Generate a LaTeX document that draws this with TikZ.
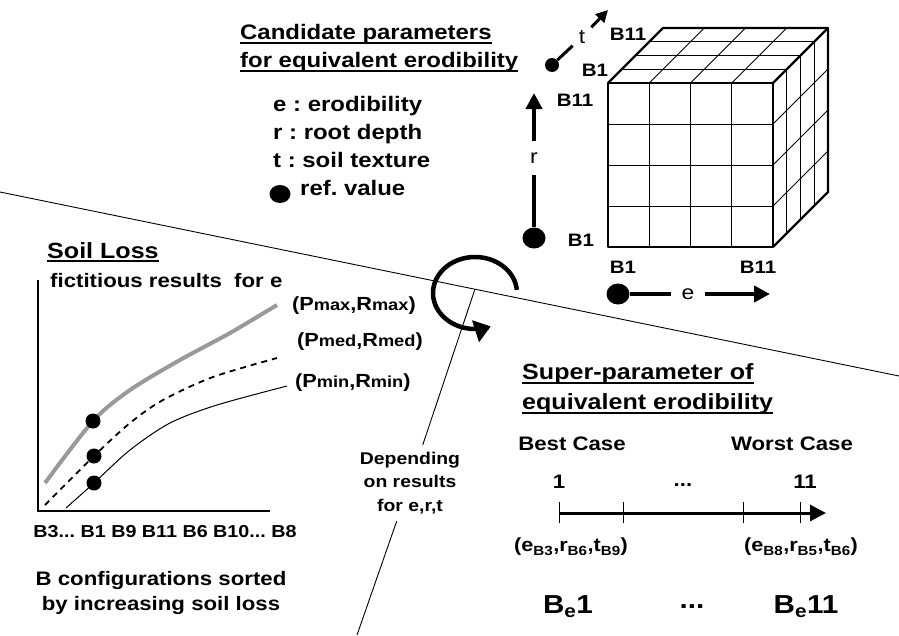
\documentclass[tikz,border=0pt]{standalone}
\usepackage{fontspec}
\setmainfont{Liberation Sans}[FakeStretch=1.14]
\usetikzlibrary{arrows.meta,shapes.geometric}
\frenchspacing
\newcommand{\fsz}[1]{\fontsize{#1}{#1}\selectfont}
\newcommand{\smtxt}[1]{{\fsz{16}#1}}
\tikzset{
  >={Triangle[length=16pt,width=16pt]},
  txt/.style={inner sep=0pt, font=\bfseries\fsz{#1}},
  axlab/.style={inner sep=6pt, font=\fsz{20}},
  bigdot/.style={ellipse, fill, inner sep=0pt, minimum width=23pt, minimum height=21pt},
  smalldot/.style={circle, fill, inner sep=0pt, minimum size=14pt},
  uline/.style={line width=2pt},
}
\begin{document}
\begin{tikzpicture}[x=1pt,y=-1pt]
\useasboundingbox (0,0) rectangle (899,635);

\draw[line width=0.9pt] (0,192) -- (899,376);

% candidate parameters
\node[txt=21, anchor=base west] (cand1) at (240,39) {Candidate parameters};
\node[txt=21, anchor=base west] (cand2) at (240,67) {for equivalent erodibility};
\draw[uline] ([yshift=-4pt]cand1.base west) -- ([yshift=-4pt]cand1.base east);
\draw[uline] ([yshift=-4pt]cand2.base west) -- ([yshift=-4pt]cand2.base east);

\node[txt=21, anchor=base west] (leg1) at (273,111) {e : erodibility};
\node[txt=21, anchor=base west] (leg2) at (273,139) {r : root depth};
\node[txt=21, anchor=base west] (leg3) at (273,167) {t : soil texture};
\node[bigdot, minimum width=21pt, minimum height=18pt] (refdot) at (280,194) {};
\node[txt=21, anchor=base west] (leg4) at (300,195) {ref. value};

% cube
\foreach \i in {1,2,3} {
  \draw[line width=0.8pt] ({608+41.25*\i},83) -- ({608+41.25*\i},247);
  \draw[line width=0.8pt] (608,{83+41*\i}) -- (773,{83+41*\i});
  \draw[line width=0.8pt] ({608+41.25*\i},83) -- ({663+41.25*\i},28);
  \draw[line width=0.8pt] ({608+13.75*\i},{83-13.75*\i}) -- ({773+13.75*\i},{83-13.75*\i});
  \draw[line width=0.8pt] ({773+13.75*\i},{83-13.75*\i}) -- ({773+13.75*\i},{247-13.75*\i});
  \draw[line width=0.8pt] (773,{83+41*\i}) -- (828,{28+41*\i});
}
\draw[line width=2.2pt, line join=round] (608,83) rectangle (773,247);
\draw[line width=2.2pt, line join=round] (608,83) -- (663,28) -- (828,28) -- (828,192) -- (773,247);
\draw[line width=2.2pt] (773,83) -- (828,28);

% axes of the cube
\node[smalldot] (tdot) at (552,65) {};
\node[axlab] (tlab) at (582,37) {t};
\coordinate (ttip) at (608,10);
\draw[line width=3pt] (tdot) -- (tlab);
\draw[line width=3pt, -{Triangle[length=12pt,width=12pt]}] (tlab) -- (ttip);
\node[txt=18] (tB11) at (628,34) {B11};
\node[txt=18] (tB1) at (595,70) {B1};

\node[bigdot] (rdot) at (534,238) {};
\node[axlab, inner ysep=11pt] (rlab) at (534,158) {r};
\coordinate (rtip) at (534,93);
\draw[line width=4pt] (rdot) -- (rlab);
\draw[line width=4pt, ->] (rlab) -- (rtip);
\node[txt=18] (rB11) at (575,100) {B11};
\node[txt=18] (rB1) at (581,240) {B1};

\node[bigdot] (edot) at (618,294) {};
\node[axlab, inner xsep=10pt] (elab) at (688,294) {e};
\coordinate (etip) at (770,294);
\draw[line width=4pt] (edot) -- (elab);
\draw[line width=4pt, ->] (elab) -- (etip);
\node[txt=18] (eB1) at (623,267) {B1};
\node[txt=18] (eB11) at (758,267) {B11};

% rotation
\draw[line width=4.5pt, domain=5:292, samples=60, smooth, variable=\a, -{Triangle[length=16pt,width=22pt]}] plot ({475+42*cos(\a)},{293-36*sin(\a)});

% soil loss
\node[txt=22, anchor=base west] (soil) at (47,258) {Soil Loss};
\draw[uline] ([yshift=-3pt]soil.base west) -- ([yshift=-3pt]soil.base east);
\node[txt=19.5, anchor=base west] (fict) at (50,287) {fictitious results\ \ for e};
\draw[line width=2.5pt] (38,280) -- (38,511) -- (270,511);

\draw[black!40, line width=4pt] plot[smooth] coordinates {(45,483) (93,421) (130,390) (180,360) (230,333) (277,305)};
\draw[line width=1.8pt, dash pattern=on 6pt off 5pt] plot[smooth] coordinates {(45,505) (94,456) (130,423) (163,400) (213,377) (277,358)};
\draw[line width=1pt] plot[smooth] coordinates {(66,508) (94,483) (130,450) (170,423) (217,405) (287,386)};
\node[smalldot, minimum size=15pt] (pmax) at (93,421) {};
\node[smalldot, minimum size=15pt] (pmed) at (94,456) {};
\node[smalldot, minimum size=15pt] (pmin) at (94,483) {};

\node[txt=19, anchor=west] (labmax) at (292,306) {(P\smtxt{max},R\smtxt{max})};
\node[txt=19, anchor=west] (labmed) at (297,342) {(P\smtxt{med},R\smtxt{med})};
\node[txt=19, anchor=west] (labmin) at (295,383) {(P\smtxt{min},R\smtxt{min})};

\node[txt=17.3] (bsort) at (165,532) {B3... B1 B9 B11 B6 B10... B8};
\node[inner sep=0pt, align=center, font=\bfseries\fontsize{19.5}{25}\selectfont] (bconf) at (161,593) {B configurations sorted\\by increasing soil loss};

% split line
\coordinate (cut) at (475,289);
\coordinate (cutend) at (357,635);
\node[inner sep=7pt, align=center, font=\bfseries\fontsize{17}{23.5}\selectfont] (dep) at (410,483) {Depending\\on results\\for e,r,t};
\draw[line width=0.9pt] (cut) -- (dep);
\draw[line width=0.9pt] (dep) -- (cutend);

% super-parameter
\node[txt=22, anchor=base west] (sup1) at (522,379) {Super-parameter of};
\node[txt=22, anchor=base west] (sup2) at (522,409) {equivalent erodibility};
\draw[uline] ([yshift=-4pt]sup1.base west) -- ([yshift=-4pt]sup1.base east);
\draw[uline] ([yshift=-4pt]sup2.base west) -- ([yshift=-4pt]sup2.base east);

\node[txt=19.5] (best) at (572,444) {Best Case};
\node[txt=19.5] (worst) at (792,444) {Worst Case};
\node[txt=19.5] (one) at (559,482) {1};
\node[txt=19.5] (mid) at (683,485) {...};
\node[txt=19.5] (eleven) at (805,482) {11};

\coordinate (sa) at (559,513);
\coordinate (sb) at (826,513);
\draw[line width=3pt, ->] (sa) -- (sb);
\foreach \x in {559,623,743,800} \draw[line width=1pt] (\x,502) -- (\x,523);

\node[txt=19] (cfgbest) at (571,547) {(e\textsubscript{B3},r\textsubscript{B6},t\textsubscript{B9})};
\node[txt=19] (cfgworst) at (801,547) {(e\textsubscript{B8},r\textsubscript{B5},t\textsubscript{B6})};

\node[txt=26] (be1) at (568,607) {B\textsubscript{e}1};
\node[txt=26] (bemid) at (692,607) {...};
\node[txt=26] (be11) at (806,607) {B\textsubscript{e}11};

\end{tikzpicture}
\end{document}
